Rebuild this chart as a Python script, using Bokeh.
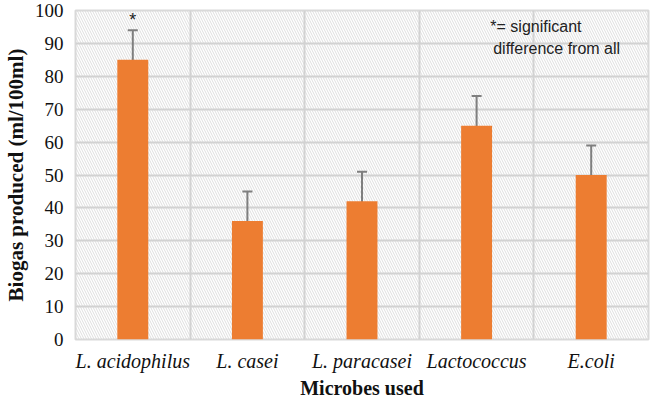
from bokeh.plotting import figure
from bokeh.models import (ColumnDataSource, Range1d, FixedTicker, Whisker, TeeHead,
                          BoxAnnotation, Label)
from bokeh.core.properties import value
from bokeh.embed import file_html
from bokeh.resources import INLINE

categories = ["L. acidophilus", "L. casei", "L. paracasei", "Lactococcus", "E.coli"]
biogas = [85, 36, 42, 65, 50]
error = [9, 9, 9, 9, 9]
y_ticks = [0, 10, 20, 30, 40, 50, 60, 70, 80, 90, 100]
significant = ["L. acidophilus"]

xs = list(range(1, len(categories) + 1))
src = ColumnDataSource(dict(
    x=xs, top=biogas,
    upper=[v + e for v, e in zip(biogas, error)],
    lower=[v - e for v, e in zip(biogas, error)],
))

SERIF = "Liberation Serif"
SANS = "Liberation Sans"

p = figure(width=650, height=401, output_backend="svg", toolbar_location=None,
           x_range=Range1d(0.5, len(categories) + 0.5), y_range=Range1d(0, 100),
           min_border_top=10, min_border_bottom=0, min_border_left=0, min_border_right=2)
p.background_fill_color = "white"
p.outline_line_color = "#d9d9d9"
p.outline_line_width = 2

# hatched plot area background
p.add_layout(BoxAnnotation(fill_alpha=0, line_alpha=0, hatch_pattern="\\",
                           hatch_color="#d6d6d6", hatch_weight=0.8, hatch_scale=5,
                           level="image"))

# grids
p.ygrid.ticker = FixedTicker(ticks=y_ticks)
p.ygrid.grid_line_color = "#d2d2d2"
p.ygrid.grid_line_width = 2
p.xgrid.ticker = FixedTicker(ticks=[i + 0.5 for i in range(0, len(categories) + 1)])
p.xgrid.grid_line_color = "#d2d2d2"
p.xgrid.grid_line_width = 2

p.vbar(x="x", top="top", width=0.27, source=src, fill_color="#ED7D31", line_color=None)

p.add_layout(Whisker(base="x", upper="upper", lower="lower", source=src,
                     line_color="#7f7f7f", line_width=2,
                     upper_head=TeeHead(size=10, line_color="#7f7f7f", line_width=2),
                     lower_head=TeeHead(size=10, line_color="#7f7f7f", line_width=2)))

# significance star
star_x = [xs[categories.index(c)] for c in significant]
star_y = [src.data["upper"][categories.index(c)] for c in significant]
p.text(x=star_x, y=star_y, text=["*"] * len(star_x), text_align="center",
       text_baseline="bottom", text_font=value(SANS), text_font_size="18px",
       text_color="#222222")

# note
p.add_layout(Label(x=4.12, y=95.2, text="*= significant", text_baseline="middle",
                   text_font=SANS, text_font_size="16px", text_color="#222222"))
p.add_layout(Label(x=4.145, y=88.6, text="difference from all", text_baseline="middle",
                   text_font=SANS, text_font_size="16px", text_color="#222222"))

# axes
p.xaxis.ticker = FixedTicker(ticks=xs)
p.xaxis.major_label_overrides = {x: c for x, c in zip(xs, categories)}
p.xaxis.major_label_text_font = SERIF
p.xaxis.major_label_text_font_style = "italic"
p.xaxis.major_label_text_font_size = "20px"
p.xaxis.major_label_text_color = "#111111"
p.xaxis.major_label_standoff = 10
p.xaxis.axis_label = "Microbes used"
p.xaxis.axis_label_text_font = SERIF
p.xaxis.axis_label_text_font_style = "bold"
p.xaxis.axis_label_text_font_size = "20px"
p.xaxis.axis_label_text_color = "#111111"
p.xaxis.axis_label_standoff = 2

p.yaxis.ticker = FixedTicker(ticks=y_ticks)
p.yaxis.major_label_text_font = SERIF
p.yaxis.major_label_text_font_size = "19px"
p.yaxis.major_label_text_color = "#111111"
p.yaxis.major_label_standoff = 12
p.yaxis.axis_label = "Biogas produced (ml/100ml)"
p.yaxis.axis_label_text_font = SERIF
p.yaxis.axis_label_text_font_style = "bold"
p.yaxis.axis_label_text_font_size = "21px"
p.yaxis.axis_label_text_color = "#111111"
p.yaxis.axis_label_standoff = 4

for ax in (p.xaxis[0], p.yaxis[0]):
    ax.axis_line_color = None
    ax.major_tick_line_color = None
    ax.minor_tick_line_color = None
    ax.major_tick_out = 0
    ax.major_tick_in = 0
    ax.minor_tick_out = 0
    ax.minor_tick_in = 0

open("out.html", "w").write(file_html(p, INLINE))
